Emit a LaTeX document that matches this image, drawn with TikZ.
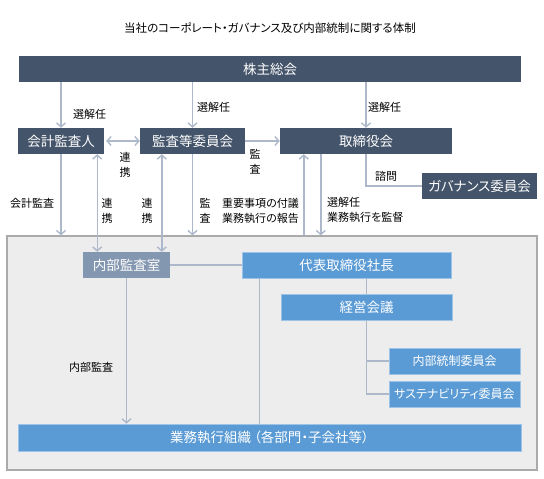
\documentclass[tikz,border=0pt]{standalone}
\usepackage{fontspec}
\setmainfont{Noto Sans CJK JP}[RawFeature=+palt]
\usepackage{xcolor}
\definecolor{boardnavy}{RGB}{68,84,106}
\definecolor{execblue}{RGB}{91,155,213}
\definecolor{auditgrey}{RGB}{132,151,176}
\definecolor{linegrey}{RGB}{173,185,202}
\definecolor{areafill}{RGB}{237,237,237}
\definecolor{areaedge}{RGB}{170,170,170}
\usetikzlibrary{arrows.meta,calc}

\begin{document}
\begin{tikzpicture}[x=1pt,y=-1pt,
    box/.style={minimum height=26pt, inner sep=0pt, text=white,
        font=\fontsize{13.5}{16}\selectfont},
    board/.style={box, fill=boardnavy},
    exec/.style={box, fill=execblue, draw=execblue!60!white, line width=0.6pt},
    smallexec/.style={exec, font=\fontsize{12}{14}\selectfont},
    audit/.style={box, fill=auditgrey},
    lbl/.style={font=\fontsize{11}{15}\selectfont, text=black, inner sep=0pt},
    link/.style={draw=linegrey, line width=1.4pt},
    oneway/.style={link, -{Straight Barb[length=4pt,width=9pt]}},
    twoway/.style={link, {Straight Barb[length=4pt,width=9pt]}-{Straight Barb[length=4pt,width=9pt]}}]
    \useasboundingbox (0,0) rectangle (544,479);
    % Title
    \node[font=\fontsize{11.5}{14}\selectfont] (title) at (270,28)
        {当社のコーポレート・ガバナンス及び内部統制に関する体制};
    % Company area
    \node[draw=areaedge, fill=areafill, line width=1.2pt, inner sep=0pt,
        minimum width=530pt, minimum height=234pt] (shanai) at (272,353) {};
    % Governance bodies
    \node[board, minimum width=502pt] (soukai) at (270,69) {株主総会};
    \node[board, minimum width=86pt] (kaikei) at (61,141) {会計監査人};
    \node[board, minimum width=105pt] (kansa) at (192.5,141) {監査等委員会};
    \node[board, minimum width=172pt] (torishimari) at (366,141) {取締役会};
    \node[board, minimum width=115pt] (governance) at (479.5,186) {ガバナンス委員会};
    % Execution side
    \node[audit, minimum width=87pt] (naibu) at (126.5,265) {内部監査室};
    \node[exec, minimum width=209pt] (shacho) at (346.5,265) {代表取締役社長};
    \node[exec, minimum width=171pt] (keiei) at (366.5,307) {経営会議};
    \node[smallexec, minimum width=131pt] (naitou) at (454.5,361) {内部統制委員会};
    \node[smallexec, minimum width=131pt] (sustain) at (454.5,394) {サステナビリティ委員会};
    \node[exec, minimum width=503pt, minimum height=27pt] (gyomu) at (269.5,437.5)
        {業務執行組織\hspace{3pt}（各部門・子会社等）};
    % Helper points
    \coordinate (k1) at ([xshift=-7pt]kaikei.south east);
    \coordinate (m1) at ([xshift=22pt]kansa.south west);
    \coordinate (t1) at ([xshift=24pt]torishimari.south west);
    \coordinate (t2) at ([xshift=41pt]torishimari.south west);
    \coordinate (s1) at ([xshift=18pt]shacho.south west);
    % Election from the general meeting
    \draw[oneway] (soukai.south -| kaikei) -- (kaikei.north);
    \draw[oneway] (soukai.south -| kansa) -- (kansa.north);
    \draw[oneway] (soukai.south -| torishimari) -- (torishimari.north);
    % Between the bodies
    \draw[twoway, shorten <=2pt] (kaikei.east) -- (kansa.west);
    \draw[oneway] (kansa.east) -- (torishimari.west);
    \draw[link] (torishimari.south) |- (governance.west);
    % Down into the company
    \draw[oneway] (kaikei.south) -- (kaikei.south |- shanai.north);
    \draw[twoway] (k1) -- (k1 |- naibu.north);
    \draw[twoway] (m1) -- (m1 |- naibu.north);
    \draw[oneway] (kansa.south) -- (kansa.south |- shanai.north);
    \draw[oneway] (t1 |- shanai.north) -- (t1);
    \draw[oneway] (t2) -- (t2 |- shanai.north);
    % Inside the company
    \draw[link] (naibu.east) -- (shacho.west);
    \draw[oneway] (naibu.south) -- (naibu.south |- gyomu.north);
    \draw[link] (s1) -- (s1 |- gyomu.north);
    \draw[link] (shacho.south -| keiei) -- (keiei.north);
    \draw[link] (keiei.south) |- (naitou.west);
    \draw[link] (keiei.south) |- (sustain.west);
    % Labels
    \node[lbl, anchor=west] (senin1) at (73,114) {選解任};
    \node[lbl, anchor=west] (senin2) at (197,107) {選解任};
    \node[lbl, anchor=west] (senin3) at (368,107) {選解任};
    \node[lbl, align=center] (renkei1) at (125,165) {連\\携};
    \node[lbl, align=center] (kansa1) at (255,162) {監\\査};
    \node[lbl, anchor=west] (shimon) at (375,176) {諮問};
    \node[lbl, anchor=west] (kaikeikansa) at (10,203) {会計監査};
    \node[lbl, align=center] (renkei2) at (107,211) {連\\携};
    \node[lbl, align=center] (renkei3) at (147,211) {連\\携};
    \node[lbl, align=center] (kansa2) at (205,211) {監\\査};
    \node[lbl, anchor=west, align=left] (fugi) at (222,211) {重要事項の付議\\業務執行の報告};
    \node[lbl, anchor=west, align=left] (kantoku) at (327,210) {選解任\\業務執行を監督};
    \node[lbl, anchor=west] (naibukansa) at (69,367) {内部監査};
\end{tikzpicture}
\end{document}
